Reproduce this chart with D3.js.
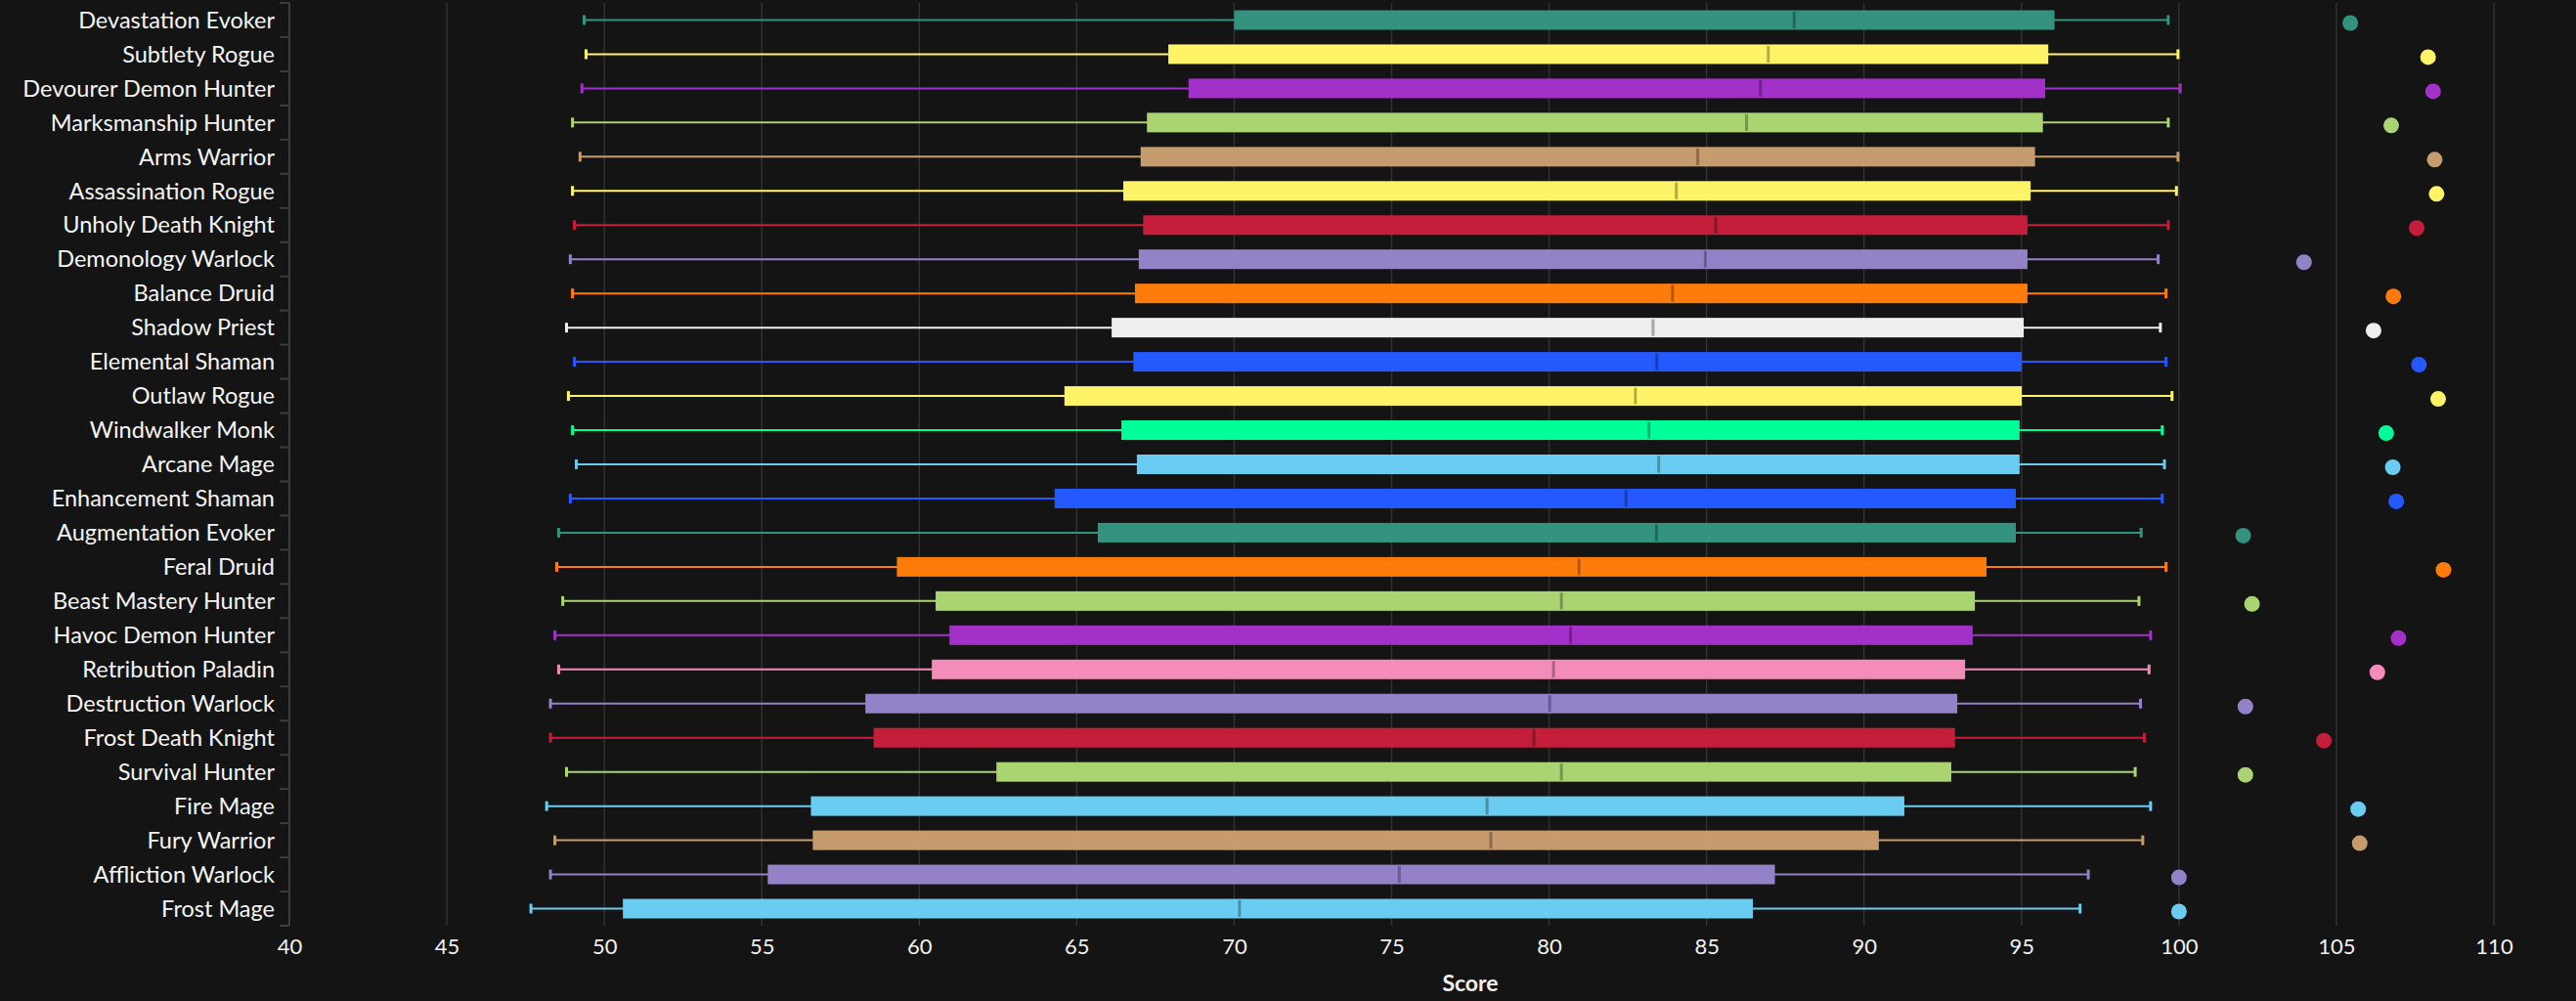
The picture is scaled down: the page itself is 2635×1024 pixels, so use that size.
<!DOCTYPE html>
<html>
<head>
<meta charset="utf-8">
<script src="https://cdn.jsdelivr.net/npm/d3@7"></script>
<style>
  html, body { margin: 0; padding: 0; background: #141414; }
  svg { display: block; }
</style>
</head>
<body>
<div id="chart"></div>
<script>
// one entry per spec, top to bottom
const specs = [
  "Devastation Evoker", "Subtlety Rogue", "Devourer Demon Hunter", "Marksmanship Hunter",
  "Arms Warrior", "Assassination Rogue", "Unholy Death Knight", "Demonology Warlock",
  "Balance Druid", "Shadow Priest", "Elemental Shaman", "Outlaw Rogue", "Windwalker Monk",
  "Arcane Mage", "Enhancement Shaman", "Augmentation Evoker", "Feral Druid",
  "Beast Mastery Hunter", "Havoc Demon Hunter", "Retribution Paladin", "Destruction Warlock",
  "Frost Death Knight", "Survival Hunter", "Fire Mage", "Fury Warrior", "Affliction Warlock",
  "Frost Mage"
];
const classes = [
  "Evoker", "Rogue", "Demon Hunter", "Hunter", "Warrior", "Rogue", "Death Knight", "Warlock",
  "Druid", "Priest", "Shaman", "Rogue", "Monk", "Mage", "Shaman", "Evoker", "Druid",
  "Hunter", "Demon Hunter", "Paladin", "Warlock", "Death Knight", "Hunter", "Mage",
  "Warrior", "Warlock", "Mage"
];
const mins = [49.36, 49.42, 49.29, 48.99, 49.23, 48.99, 49.05, 48.92, 48.99, 48.80, 49.05, 48.86, 48.99,
  49.11, 48.92, 48.55, 48.49, 48.68, 48.43, 48.55, 48.29, 48.29, 48.80, 48.17, 48.43, 48.29, 47.67];
const q1s = [70.00, 67.91, 68.55, 67.23, 67.03, 66.48, 67.11, 66.97, 66.85, 66.11, 66.80, 64.61, 66.42,
  66.91, 64.30, 65.67, 59.29, 60.52, 60.96, 60.40, 58.29, 58.55, 62.45, 56.56, 56.62, 55.19, 50.59];
const medians = [87.78, 86.96, 86.71, 86.27, 84.72, 84.04, 85.29, 84.96, 83.92, 83.30, 83.42, 82.74, 83.17,
  83.48, 82.44, 83.41, 80.95, 80.39, 80.68, 80.14, 80.02, 79.52, 80.39, 78.03, 78.15, 75.24, 70.17];
const q3s = [96.05, 95.85, 95.75, 95.68, 95.43, 95.29, 95.19, 95.19, 95.19, 95.07, 95.01, 95.01, 94.94,
  94.94, 94.82, 94.82, 93.89, 93.52, 93.45, 93.21, 92.96, 92.89, 92.77, 91.28, 90.47, 87.17, 86.47];
const maxs = [99.66, 99.97, 100.04, 99.66, 99.97, 99.92, 99.66, 99.34, 99.59, 99.41, 99.59, 99.78, 99.47,
  99.54, 99.47, 98.80, 99.59, 98.73, 99.10, 99.05, 98.78, 98.90, 98.61, 99.10, 98.85, 97.12, 96.86];
const tops = [105.44, 107.91, 108.07, 106.74, 108.12, 108.18, 107.55, 103.97, 106.81, 106.18, 107.62, 108.23, 106.58,
  106.79, 106.90, 102.04, 108.40, 102.32, 106.97, 106.30, 102.11, 104.60, 102.11, 105.69, 105.74, 100.00, 100.00];

const classColors = {
  "Evoker": "#33937f", "Rogue": "#fff468", "Demon Hunter": "#a330c9", "Hunter": "#aad372",
  "Warrior": "#c69b6d", "Death Knight": "#c41e3a", "Warlock": "#9482c9", "Druid": "#ff7c0a",
  "Priest": "#eeeeee", "Shaman": "#2459ff", "Monk": "#00ff98", "Mage": "#69ccf0", "Paladin": "#f48cba"
};
const xTicks = d3.range(40, 111, 5);

const width = 2635, height = 1024;
const margin = {top: 3, right: 84, bottom: 77, left: 296};
const font = "Lato, 'Liberation Sans', sans-serif";

const rows = specs.map((s, i) => ({
  spec: s, color: classColors[classes[i]],
  min: mins[i], q1: q1s[i], median: medians[i], q3: q3s[i], max: maxs[i], top: tops[i]
}));

const svg = d3.select("#chart")
  .append("svg")
  .attr("width", width)
  .attr("height", height)
  .style("background", "#141414");

const x = d3.scaleLinear().domain([40, 110]).range([margin.left, width - margin.right]);
const y = d3.scaleBand().domain(specs).range([margin.top, height - margin.bottom]);
const boxH = 20;

// vertical grid
svg.append("g")
  .selectAll("line")
  .data(xTicks)
  .enter()
  .append("line")
  .attr("x1", d => x(d)).attr("x2", d => x(d))
  .attr("y1", margin.top).attr("y2", height - margin.bottom)
  .attr("stroke", "#313131")
  .attr("stroke-width", 1.5);

// x axis
svg.append("g")
  .attr("transform", "translate(0," + (height - margin.bottom) + ")")
  .call(d3.axisBottom(x).tickValues(xTicks).tickSize(0).tickPadding(13))
  .call(g => g.select(".domain").remove())
  .call(g => g.selectAll(".tick text")
    .attr("fill", "#f0f0f0")
    .style("font-family", font)
    .style("font-size", "22px"));

svg.append("text")
  .attr("x", 1504)
  .attr("y", 1014)
  .attr("text-anchor", "middle")
  .attr("fill", "#f0f0f0")
  .style("font-family", font)
  .style("font-size", "23px")
  .style("font-weight", "bold")
  .text("Score");

// y axis: line, ticks between categories, labels
const yAxis = svg.append("g");
yAxis.append("line")
  .attr("x1", margin.left).attr("x2", margin.left)
  .attr("y1", margin.top).attr("y2", height - margin.bottom)
  .attr("stroke", "#3c3c3c")
  .attr("stroke-width", 2);
yAxis.selectAll(".ytick")
  .data(d3.range(specs.length + 1))
  .enter()
  .append("line")
  .attr("x1", margin.left - 10).attr("x2", margin.left)
  .attr("y1", i => margin.top + i * y.step())
  .attr("y2", i => margin.top + i * y.step())
  .attr("stroke", "#3c3c3c")
  .attr("stroke-width", 2);
yAxis.selectAll(".ylabel")
  .data(specs)
  .enter()
  .append("text")
  .attr("x", margin.left - 15)
  .attr("y", d => y(d) + y.bandwidth() / 2)
  .attr("dy", "0.35em")
  .attr("text-anchor", "end")
  .attr("fill", "#f4f4f4")
  .style("font-family", font)
  .style("font-size", "23.5px")
  .text(d => d);

// boxes
const box = svg.append("g")
  .selectAll("g")
  .data(rows)
  .enter()
  .append("g")
  .attr("transform", d => "translate(0," + (y(d.spec) + y.bandwidth() / 2) + ")");

box.append("line")
  .attr("x1", d => x(d.min)).attr("x2", d => x(d.max))
  .attr("stroke", d => d.color)
  .attr("stroke-width", 2);

box.selectAll(".cap")
  .data(d => [d.min, d.max].map(v => ({v: v, color: d.color})))
  .enter()
  .append("line")
  .attr("x1", d => x(d.v)).attr("x2", d => x(d.v))
  .attr("y1", -5).attr("y2", 5)
  .attr("stroke", d => d.color)
  .attr("stroke-width", 3);

box.append("rect")
  .attr("x", d => x(d.q1))
  .attr("width", d => x(d.q3) - x(d.q1))
  .attr("y", -boxH / 2)
  .attr("height", boxH)
  .attr("fill", d => d.color);

box.append("line")
  .attr("x1", d => x(d.median)).attr("x2", d => x(d.median))
  .attr("y1", -8.5).attr("y2", 8.5)
  .attr("stroke", d => d3.color(d.color).darker(1))
  .attr("stroke-width", 3);

box.append("circle")
  .attr("cx", d => x(d.top))
  .attr("cy", 3)
  .attr("r", 8)
  .attr("fill", d => d.color);
</script>
</body>
</html>
